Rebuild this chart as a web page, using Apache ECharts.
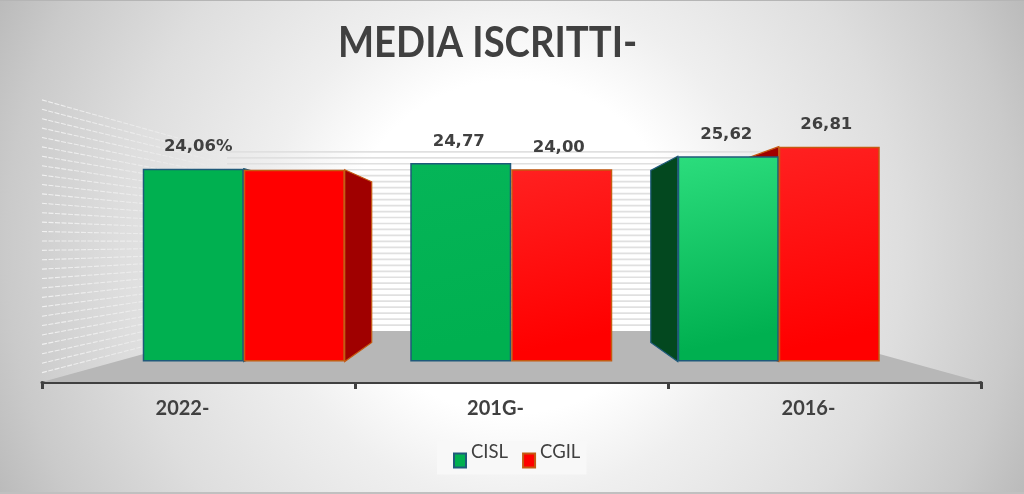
<!DOCTYPE html>
<html>
<head>
<meta charset="utf-8">
<style>
html,body{margin:0;padding:0;width:1024px;height:494px;overflow:hidden}
#c{width:1024px;height:494px;background:radial-gradient(circle 575px at 512px 247px,#ffffff 0%,#ffffff 29%,#efefef 44%,#dedede 68%,#cacaca 88%,#b9b9b9 100%);box-shadow:inset 0 1px 0 #b5b5b5,inset 0 -2px 0 #c0c0c0}
</style>
<script src="https://cdn.jsdelivr.net/npm/echarts@6/dist/echarts.min.js"></script>
</head>
<body>
<div id="c"></div>
<script>
const categories = ['2022-', '201G-', '2016-'];
const cislValues = [24.06, 24.77, 25.62];
const cgilValues = [23.93, 24.00, 26.81];
const cislLabels = ['24,06%', '24,77', '25,62'];
const cgilLabels = ['', '24,00', '26,81'];
const wallTicks = [0,1,2,3,4,5,6,7,8,9,10,11,12,13,14,15,16,17,18,19,20,21,22,23,24,25,26,27,28,29,30];

const TEXT = '#404040';
const BAR_W = 101;          // px width of one bar
const PLANE = {left: 110, width: 802.5, top: 121.1, bottom: 361.5};
const FRONT = {left: 42, right: 981, y: 382};
const BACK = {left: 227, right: 796, y: 331};
const K_FRONT = 9.4 / 8.01, K_BACK = 5.97 / 8.01;  // wall scale relative to bar plane
const VANISH = {x: 511.25, y: 244, s: 0.838};      // depth projection of the bars

function back(x, y) {
  return [VANISH.x + VANISH.s * (x - VANISH.x), VANISH.y + VANISH.s * (y - VANISH.y)];
}

function sideFace(sign, fill, stroke) {
  return function (params, api) {
    const top = api.coord([api.value(0), api.value(1)]);
    const base = api.coord([api.value(0), 0]);
    const cx = top[0];
    const xl = sign < 0 ? cx - BAR_W : cx;
    const xr = sign < 0 ? cx : cx + BAR_W;
    let edge;
    if (xr < VANISH.x - 2) edge = xr;
    else if (xl > VANISH.x + 2) edge = xl;
    else return null;
    return {
      type: 'polygon',
      shape: {points: [[edge, top[1]], back(edge, top[1]), back(edge, base[1]), [edge, base[1]]]},
      style: {fill: fill, stroke: stroke, lineWidth: 1.2}
    };
  };
}

const wallStroke = new echarts.graphic.LinearGradient(FRONT.left, 0, BACK.left, 0, [
  {offset: 0, color: 'rgba(255,255,255,0.7)'},
  {offset: 0.6, color: 'rgba(255,255,255,0.35)'},
  {offset: 1, color: 'rgba(255,255,255,0.05)'}
], true);

function renderRoom(params, api) {
  const children = [];
  if (params.dataIndex === 0) {
    children.push({
      type: 'polygon',
      shape: {points: [[FRONT.left, FRONT.y], [BACK.left, BACK.y], [BACK.right, BACK.y], [FRONT.right, FRONT.y]]},
      style: {fill: '#b7b7b7'}
    });
  }
  const v = api.value(0);
  const h = PLANE.bottom - api.coord([0, v])[1];
  if (v > 0) {
    children.push({
      type: 'line',
      shape: {x1: BACK.left, y1: BACK.y - h * K_BACK, x2: BACK.right, y2: BACK.y - h * K_BACK},
      style: {stroke: '#e0e0e0', lineWidth: 1.7}
    });
    children.push({
      type: 'line',
      shape: {x1: FRONT.left, y1: FRONT.y - h * K_FRONT, x2: BACK.left, y2: BACK.y - h * K_BACK},
      style: {stroke: wallStroke, lineWidth: 1.1, lineDash: [5, 1.5]}
    });
  }
  return {type: 'group', children: children};
}

function grad(c0, c1) {
  return new echarts.graphic.LinearGradient(0.15, 0, 0.6, 1, [{offset: 0, color: c0}, {offset: 0.9, color: c1}]);
}
const GREEN = '#00b050', RED = '#ff0000';
const cislFill = [GREEN, grad('#05b558', GREEN), grad('#2bdc7c', GREEN)];
const cgilFill = [RED, grad('#ff2020', RED), grad('#ff2020', RED)];
const GREEN_EDGE = '#1f5a7a', RED_EDGE = '#c55a11';

function barData(values, labels, fills, shifts) {
  return values.map((v, i) => ({
    value: v,
    itemStyle: {color: fills[i]},
    label: {formatter: labels[i], show: labels[i] !== '', offset: [shifts[i], -8]}
  }));
}
const barLabel = {show: true, position: 'top', color: TEXT, fontFamily: 'DejaVu Sans', fontWeight: 'bold', fontSize: 16.5};

const chart = echarts.init(document.getElementById('c'), null, {renderer: 'canvas'});
chart.setOption({
  animation: false,
  backgroundColor: 'transparent',
  graphic: [{
    type: 'text', left: 338, top: 22, scaleX: 0.91, z: 10,
    style: {text: 'MEDIA ISCRITTI-', fill: TEXT, font: 'bold 42px Lato'}
  }],
  legend: {
    data: ['CISL', 'CGIL'], left: 437, top: 441, itemWidth: 12, itemHeight: 14, itemGap: 14,
    icon: 'rect', backgroundColor: '#f8f8f8', padding: [2, 6, 6, 16],
    formatter: '{t|{name}}',
    textStyle: {
      fontFamily: 'Lato', fontSize: 18.5, color: TEXT,
      rich: {t: {fontFamily: 'Lato', fontSize: 18.5, color: TEXT, padding: [0, 0, 16, 0]}}
    }
  },
  grid: [
    {left: PLANE.left, width: PLANE.width, top: PLANE.top, height: PLANE.bottom - PLANE.top},
    {left: FRONT.left, width: FRONT.right - FRONT.left, top: 100, height: FRONT.y - 100}
  ],
  xAxis: [
    {type: 'category', gridIndex: 0, data: categories, show: false},
    {
      type: 'category', gridIndex: 1, data: categories,
      axisLine: {lineStyle: {color: TEXT, width: 3}},
      axisTick: {show: true, alignWithLabel: false, length: 7, lineStyle: {color: TEXT, width: 3}},
      axisLabel: {margin: 17, color: TEXT, fontFamily: 'Lato', fontWeight: 'bold', fontSize: 20, padding: [0, 32, 0, 0]}
    }
  ],
  yAxis: [
    {type: 'value', gridIndex: 0, min: 0, max: 30, show: false},
    {type: 'value', gridIndex: 1, min: 0, max: 30, show: false}
  ],
  series: [
    {type: 'custom', name: 'room', xAxisIndex: 0, yAxisIndex: 0, z: 1, silent: true, clip: false,
     data: wallTicks.map(v => [v]), encode: {y: 0}, renderItem: renderRoom},
    {type: 'custom', name: 'cgilSide', xAxisIndex: 0, yAxisIndex: 0, z: 2, silent: true, clip: false,
     data: cgilValues.map((v, i) => [i, v]), encode: {x: 0, y: 1}, renderItem: sideFace(1, '#a00000', RED_EDGE)},
    {type: 'custom', name: 'cislSide', xAxisIndex: 0, yAxisIndex: 0, z: 2, silent: true, clip: false,
     data: cislValues.map((v, i) => [i, v]), encode: {x: 0, y: 1}, renderItem: sideFace(-1, '#03481f', GREEN_EDGE)},
    {type: 'bar', name: 'CISL', xAxisIndex: 0, yAxisIndex: 0, z: 3, barWidth: BAR_W, barGap: 0,
     itemStyle: {color: GREEN, borderColor: GREEN_EDGE, borderWidth: 1.5},
     label: barLabel, data: barData(cislValues, cislLabels, cislFill, [5, -2, -2])},
    {type: 'bar', name: 'CGIL', xAxisIndex: 0, yAxisIndex: 0, z: 3, barWidth: BAR_W, barGap: 0,
     itemStyle: {color: RED, borderColor: RED_EDGE, borderWidth: 1.5},
     label: barLabel, data: barData(cgilValues, cgilLabels, cgilFill, [0, -3, -3])}
  ]
});
</script>
</body>
</html>
